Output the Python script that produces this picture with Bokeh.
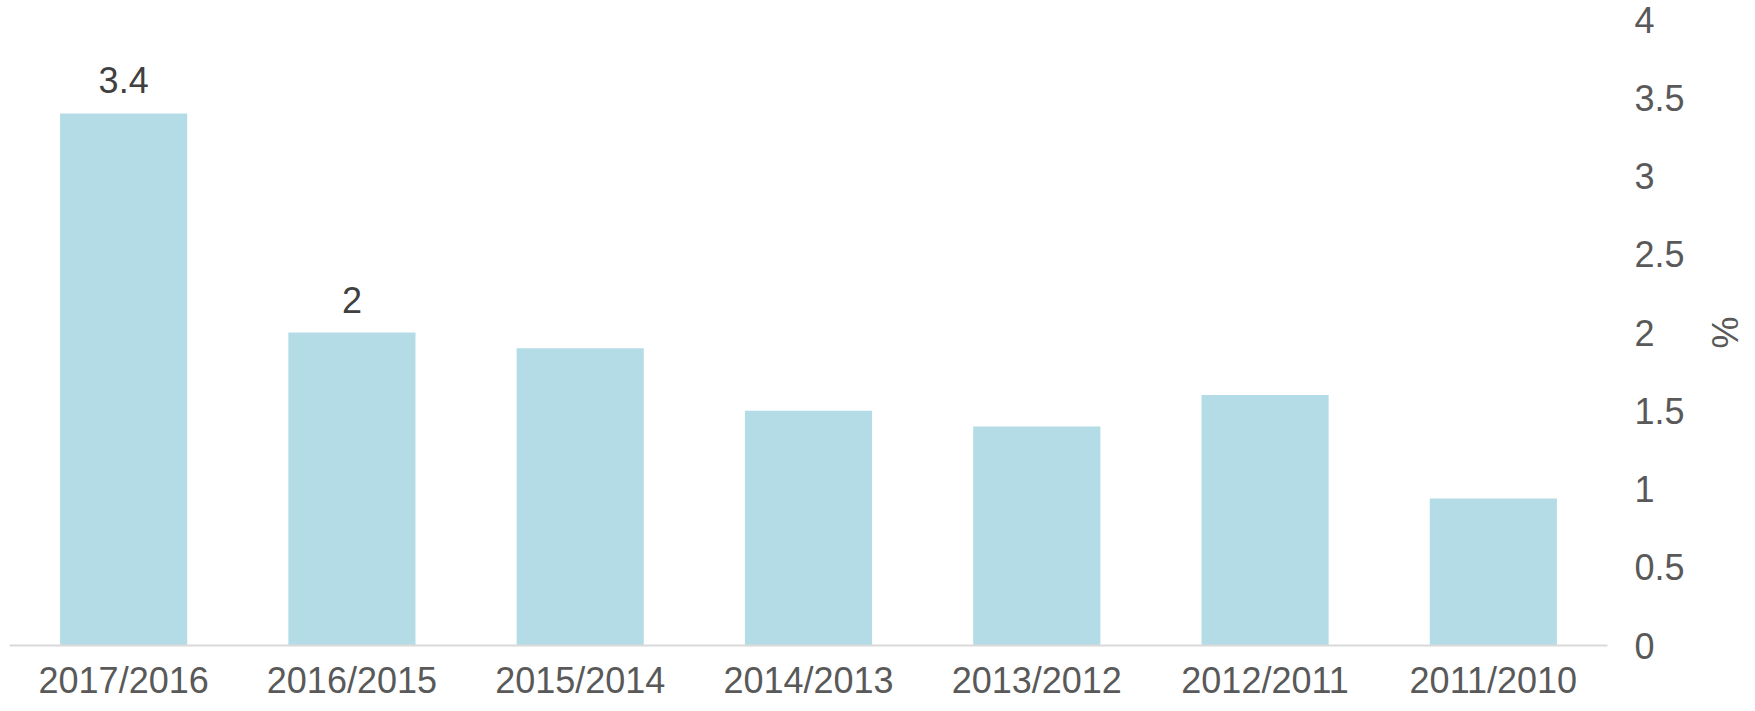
from bokeh.plotting import figure
from bokeh.models import ColumnDataSource, FactorRange, Range1d, LinearAxis, FixedTicker
from bokeh.core.properties import value
from bokeh.embed import file_html
from bokeh.resources import INLINE

# ---- data ----
categories = ["2017/2016", "2016/2015", "2015/2014", "2014/2013", "2013/2012", "2012/2011", "2011/2010"]
values = [3.4, 2.0, 1.9, 1.5, 1.4, 1.6, 0.94]
label_categories = ["2017/2016", "2016/2015"]
label_values = [3.4, 2.0]
label_texts = ["3.4", "2"]
y_ticks = [0, 0.5, 1, 1.5, 2, 2.5, 3, 3.5, 4]
y_tick_labels = ["0", "0.5", "1", "1.5", "2", "2.5", "3", "3.5", "4"]

FONT = "Liberation Sans"

p = figure(
    width=1747, height=703,
    x_range=FactorRange(factors=categories, range_padding=0),
    y_range=Range1d(0, 4),
    output_backend="svg", toolbar_location=None,
    y_axis_location=None,
    min_border_left=9, min_border_right=140, min_border_top=19, min_border_bottom=10,
)
p.outline_line_color = None
p.xgrid.grid_line_color = None
p.ygrid.grid_line_color = None
p.background_fill_color = "white"
p.border_fill_color = "white"

src = ColumnDataSource(dict(cat=categories, val=values))
p.vbar(x="cat", top="val", width=0.557, source=src,
       fill_color="#B4DCE6", line_color=None)

lsrc = ColumnDataSource(dict(cat=label_categories, val=label_values, txt=label_texts))
p.text(x="cat", y="val", text="txt", source=lsrc,
       text_font=value(FONT), text_font_size="36px", text_color="#404040",
       text_align="center", text_baseline="alphabetic", y_offset=-33)

# x axis
xa = p.xaxis[0]
xa.axis_label = None
xa.axis_label_standoff = 0
xa.axis_line_color = "#D9D9D9"
xa.axis_line_width = 2
xa.major_tick_line_color = None
xa.minor_tick_line_color = None
xa.major_tick_out = 0
xa.major_tick_in = 0
xa.major_label_text_font = FONT
xa.major_label_text_font_size = "36px"
xa.major_label_text_color = "#595959"
xa.major_label_text_line_height = 1.0
xa.major_label_standoff = 14

# right y axis
ya = LinearAxis(ticker=FixedTicker(ticks=y_ticks))
ya.major_label_overrides = {t: l for t, l in zip(y_ticks, y_tick_labels)}
ya.axis_line_color = None
ya.major_tick_line_color = None
ya.minor_tick_line_color = None
ya.major_label_text_font = FONT
ya.major_label_text_font_size = "36px"
ya.major_label_text_color = "#595959"
ya.major_label_text_line_height = 1.0
ya.major_label_standoff = 21
ya.axis_label = "%"
ya.axis_label_text_font = FONT
ya.axis_label_text_font_size = "36px"
ya.axis_label_text_font_style = "normal"
ya.axis_label_text_color = "#595959"
ya.axis_label_text_line_height = 1.0
ya.axis_label_standoff = 16
p.add_layout(ya, "right")

open("out.html", "w").write(file_html(p, INLINE))
